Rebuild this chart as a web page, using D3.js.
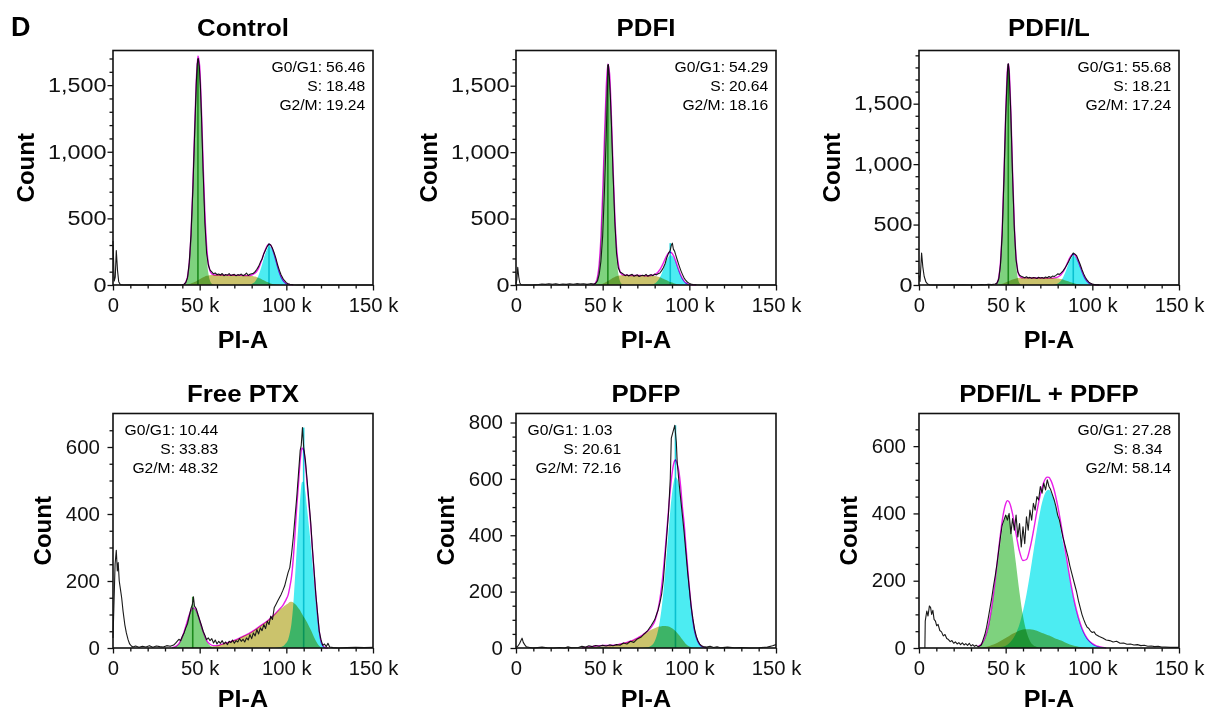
<!DOCTYPE html>
<html>
<head>
<meta charset="utf-8">
<script src="https://cdn.jsdelivr.net/npm/d3@7"></script>
<style>
body { margin: 0; background: #fff; }
svg { display: block; font-family: "Liberation Sans", Arial, Helvetica, sans-serif; }
.mult { mix-blend-mode: multiply; }
</style>
</head>
<body>
<svg id="fig" width="1207" height="712"></svg>
<script>
// ---- tick labels ----
const xTicks = [0, 50, 100, 150];
const yTicksTop = [0, 500, 1000, 1500];
const yTicksLow = [0, 200, 400, 600];
const yTicksPdfp = [0, 200, 400, 600, 800];
const statLabels = ["G0/G1:", "S:", "G2/M:"];

// ---- Control ----
const controlStats = ["56.46", "18.48", "19.24"];
const controlHist = [[0,330],[0.7,30],[1.3,60],[1.9,258],[2.6,110],[3.3,25],[4.2,3],[6,0],[10,1],[15,0],[20,1],[25,0],[30,1],[35,2],[38,1],[40,3],[41,6],[42,20],[43,55],[44,170],[45,380],[46,700],[47,1100],[48,1500],[48.6,1660],[49.2,1700],[49.8,1640],[50.4,1500],[51,1290],[52,850],[53,470],[54,240],[55,150],[56,112],[57,98],[58,84],[59,90],[60,78],[61,82],[62,75],[63,86],[64,70],[65,79],[66,74],[67,85],[68,71],[69,77],[70,80],[71,69],[72,78],[73,74],[74,82],[75,70],[76,76],[77,90],[78,72],[79,80],[80,85],[81,88],[82,100],[83,118],[84,140],[85,170],[86,195],[87,235],[88,262],[89,290],[90,309],[91,300],[92,275],[93,240],[94,200],[95,150],[96,110],[97,75],[98,50],[99,32],[100,18],[101,10],[102,6],[104,2],[106,0],[110,1],[120,0],[130,0],[140,0],[150,0]];
const controlK  = [40,41,42,43,44,45,46,47,48,49,50,51,52,53,54,55,56,57,58,59,60,62,64,66,68,70,72,74,76,78,80,81,82,83,84,85,86,87,88,89,90,91,92,93,94,95,96,97,98,99,100,102,104];
const controlG1 = [1,5,19,60,162,366,695,1110,1491,1684,1599,1276,856,483,229,91,31,9,2,0,0, 0,0,0,0,0,0,0,0,0,0, 0,0,0,0,0,0,0,0,0,0,0,0,0,0,0,0,0,0,0,0, 0,0];
const controlS  = [0,0,2,4,7,11,16,22,29,36,44,51,58,64,69,72,74,75,75,75,75, 75,74,74,73,73,72,72,71,70,68, 66,63,59,54,48,42,35,28,22,17,12,8,5,3,1,0,0,0,0,0, 0,0];
const controlG2 = [0,0,0,0,0,0,0,0,0,0,0,0,0,0,0,0,0,0,0,0,0, 0,0,0,0,0,0,0,0,0,7, 15,27,46,73,110,153,199,241,273,289,285,262,225,181,135,94,61,37,21,11, 3,0];

// ---- PDFI ----
const pdfiStats = ["54.29", "20.64", "18.16"];
const pdfiHist = [[0,10],[0.5,40],[1,134],[1.6,60],[2.2,15],[3,2],[5,0],[10,1],[13,4],[15,8],[17,5],[19,9],[21,6],[23,10],[25,4],[27,8],[29,5],[31,9],[33,6],[35,10],[37,7],[39,9],[41,5],[43,10],[45,8],[46,14],[47,30],[48,80],[49,180],[50,370],[51,700],[52,1100],[52.7,1450],[53.3,1660],[53.9,1560],[54.5,1400],[55,1230],[56,840],[57,480],[58,240],[59,130],[60,98],[61,90],[62,82],[63,70],[64,78],[65,68],[66,75],[67,80],[68,66],[69,72],[70,77],[71,64],[72,70],[73,74],[74,69],[75,80],[76,66],[77,74],[78,78],[79,70],[80,82],[81,76],[82,84],[83,90],[84,108],[85,130],[86,160],[87,205],[88,240],[89,262],[89.6,300],[90.2,315],[90.8,270],[91.5,255],[92,232],[93,190],[94,150],[95,112],[96,80],[97,52],[98,34],[99,20],[100,12],[101,7],[102,4],[104,2],[108,0],[115,0],[150,0]];
const pdfiK  = [44,45,46,47,48,49,50,51,52,53,54,55,56,57,58,59,60,61,62,63,64,66,68,70,72,74,76,78,79,80,81,82,83,84,85,86,87,88,89,90,91,92,93,94,95,96,97,98,99,100,101,102,104];
const pdfiG1 = [1,5,18,58,157,354,674,1077,1446,1634,1551,1238,830,469,221,89,30,8,2,0,0, 0,0,0,0,0,0,0, 0,0,0,0,0,0,0,0,0,0,0,0,0,0,0,0,0,0,0,0,0,0,0,0, 0];
const pdfiS  = [0,0,0,1,3,6,10,15,22,30,38,46,54,61,66,70,72,73,73,73,73, 72,72,71,71,70,70,69, 68,67,65,62,58,53,47,41,35,29,23,18,13,9,6,4,2,1,0,0,0,0,0,0, 0];
const pdfiG2 = [0,0,0,0,0,0,0,0,0,0,0,0,0,0,0,0,0,0,0,0,0, 0,0,0,0,0,0,3, 6,11,21,36,57,85,119,154,187,212,224,221,204,175,140,105,73,47,29,16,9,4,2,0, 0];

// ---- PDFI/L ----
const pdfilStats = ["55.68", "18.21", "17.24"];
const pdfilHist = [[0,80],[0.6,30],[1.5,265],[2.2,150],[3,70],[4,25],[5,8],[6,2],[8,0],[15,0],[25,1],[33,0],[36,4],[38,2],[40,6],[42,3],[44,8],[45,16],[46,50],[47,170],[48,430],[49,880],[50,1400],[51,1760],[51.5,1830],[52,1770],[53,1410],[54,900],[55,470],[56,210],[57,110],[58,80],[59,72],[60,66],[61,60],[62,68],[63,58],[64,63],[65,55],[66,62],[67,60],[68,54],[69,64],[70,58],[71,62],[72,56],[73,66],[74,60],[75,70],[76,62],[77,74],[78,70],[79,80],[80,92],[81,88],[82,100],[83,115],[84,135],[85,160],[86,185],[87,215],[88,240],[89,265],[90,255],[91,240],[92,205],[93,170],[94,128],[95,92],[96,62],[97,40],[98,24],[99,14],[100,8],[101,5],[102,3],[104,1],[108,0],[120,0],[150,0]];
const pdfilK  = [44,45,46,47,48,49,50,51,51.5,52,53,54,55,56,57,58,59,60,62,64,66,68,70,72,74,76,78,79,80,81,82,83,84,85,86,87,88,89,90,91,92,93,94,95,96,97,98,99,100,101,102,104];
const pdfilG1 = [3,15,58,181,449,886,1395,1750,1800,1750,1395,886,449,181,58,15,3,0, 0,0,0,0,0,0,0,0,0, 0,0,0,0,0,0,0,0,0,0,0,0,0,0,0,0,0,0,0,0,0,0,0,0, 0];
const pdfilS  = [0,1,3,6,10,15,21,27,30,33,39,45,50,54,57,58,59,59, 59,59,58,58,58,57,57,57,56, 55,54,52,49,45,40,35,30,25,20,16,12,9,6,4,2,1,0,0,0,0,0,0,0, 0];
const pdfilG2 = [0,0,0,0,0,0,0,0,0,0,0,0,0,0,0,0,0,0, 0,0,0,0,0,0,0,0,3, 6,12,22,38,61,91,126,165,200,226,239,236,217,186,149,112,78,51,31,18,9,4,2,0, 0];

// ---- Free PTX ----
const freeStats = ["10.44", "33.83", "48.32"];
const freeHist = [[0,30],[0.5,120],[1.2,250],[1.9,292],[2.5,230],[3,255],[3.6,200],[4.3,175],[5,150],[5.8,110],[6.8,70],[7.7,45],[8.7,25],[9.6,12],[10.6,6],[11.5,3],[13,6],[15,2],[17,5],[19,3],[21,7],[23,2],[25,6],[27,4],[29,3],[31,7],[33,5],[35,9],[36,14],[37,20],[38,26],[39,22],[40,35],[41,45],[42,60],[43,72],[44,95],[45,118],[45.8,130],[46.4,153],[47,125],[48,118],[49,100],[50,84],[51,68],[52,50],[53,38],[54,25],[55,30],[56,22],[57,28],[58,15],[59,24],[60,12],[61,20],[62,14],[63,22],[64,12],[65,18],[66,10],[67,20],[68,16],[69,24],[70,14],[71,22],[72,18],[73,28],[74,20],[75,26],[76,18],[77,30],[78,24],[79,40],[80,28],[81,45],[82,36],[83,55],[84,42],[85,60],[86,52],[87,70],[88,58],[89,80],[90,70],[91,95],[92,85],[93,120],[94,130],[95,140],[96,150],[97,160],[98,172],[99,185],[100,205],[101,225],[102,240],[103,280],[104,330],[105,390],[106,450],[107,520],[108,590],[108.6,605],[109.3,658],[110,600],[111,560],[112,500],[113,440],[114,380],[115,300],[116,230],[117,160],[118,105],[119,50],[120,25],[121,8],[122,12],[123,4],[124,14],[125,3],[127,1],[130,0],[135,1],[140,2],[145,1],[150,2]];
const freeK  = [34,36,38,40,42,44,45,46,47,48,49,50,52,54,56,58,60,62,64,66,68,70,72,75,78,80,82,85,88,90,93,96,98,99,100,101,102,103,104,105,106,107,108,109,110,111,112,113,114,115,116,117,118,119,120,121,122,123,124];
const freeG1 = [1,4,12,32,63,97,110,117,117,110,97,80, 46,20,7,2,0,0,0,0,0,0,0, 0,0,0,0,0,0,0,0,0,0, 0,0,0,0,0,0,0,0,0,0,0,0,0,0,0,0,0,0,0,0,0,0,0,0,0,0];
const freeS  = [0,0,1,1,2,2,2,2,2,2,2,2, 3,3,4,5,7,10,13,16,19,23,27, 35,42,48,55,66,77,85,99,114,122, 126,130,133,137,138,136,131,126,119,112,102,93,85,76,66,55,44,32,22,13,6,2,0,0,0,0];
const freeG2 = [0,0,0,0,0,0,0,0,0,0,0,0, 0,0,0,0,0,0,0,0,0,0,0, 0,0,0,0,0,0,0,0,2,5, 10,16,25,45,75,130,210,295,370,448,495,497,465,414,365,315,255,198,138,87,44,18,8,2,0,0];

// ---- PDFP ----
const pdfpStats = ["1.03", "20.61", "72.16"];
const pdfpHist = [[0,3],[1,6],[2,15],[3,28],[3.5,35],[4.2,20],[5,12],[6,4],[8,2],[10,0],[15,3],[18,1],[22,0],[25,2],[28,0],[30,4],[32,1],[36,2],[38,6],[40,3],[42,8],[44,5],[46,9],[48,6],[50,10],[52,7],[54,11],[56,8],[58,12],[60,10],[62,18],[64,14],[66,24],[68,20],[70,32],[72,38],[74,50],[76,62],[78,80],[80,100],[81,118],[82,135],[83,160],[84,190],[85,240],[86,320],[87,400],[88,480],[89,600],[89.6,745],[90.6,768],[91.6,790],[92.5,730],[93,660],[94,590],[95,530],[96,470],[97,410],[98,340],[99,270],[100,210],[101,150],[102,105],[103,68],[104,42],[105,25],[106,14],[107,8],[108,5],[110,3],[112,6],[114,2],[116,4],[118,1],[122,3],[126,1],[130,2],[135,0],[140,1],[145,3],[148,8],[150,12]];
const pdfpK  = [38,40,42,44,46,48,50,52,54,56,58,60,62,64,66,68,70,72,74,76,78,80,82,83,84,85,86,87,88,89,90,91,92,93,94,95,96,97,98,99,100,101,102,103,104,105,106,108,110];
const pdfpG1 = [0,0,1,2,3,4,4,3,2,1,0,0,0,0,0,0,0,0,0,0,0,0,0, 0,0,0,0,0,0,0,0,0,0,0,0,0,0,0,0,0,0,0,0,0,0,0,0, 0,0];
const pdfpS  = [1,2,3,3,4,4,5,6,7,9,11,14,17,20,24,29,35,42,50,57,65,70,75, 76,77,78,78,77,76,74,70,66,60,53,46,38,30,22,14,9,5,3,1,0,0,0,0, 0,0];
const pdfpG2 = [0,0,0,0,0,0,0,0,0,0,0,0,0,0,0,0,0,0,1,3,8,24,64, 97,141,197,264,338,415,487,547,589,607,600,580,535,470,420,350,280,210,150,100,62,38,22,12, 3,0];

// ---- PDFI/L + PDFP ----
const comboStats = ["27.28", "8.34", "58.14"];
const comboHist = [[3.4,0],[3.6,80],[4.5,110],[5.2,95],[6,125],[6.7,120],[7.3,100],[8,112],[8.7,85],[9.5,80],[10.2,66],[11,70],[12,52],[13,48],[14,36],[15,40],[16,28],[17,25],[18,19],[19,22],[20,14],[21,18],[22,12],[23,16],[24,10],[25,15],[26,9],[27,13],[28,8],[29,14],[30,6],[31,10],[32,5],[33,8],[34,4],[35,6],[36,9],[37,25],[38,40],[39,62],[40,90],[41,120],[42,150],[43,185],[44,215],[45,250],[46,290],[47,330],[48,365],[49,380],[50,395],[51,380],[52,400],[53,340],[54,385],[55,350],[56,395],[57,330],[58,370],[59,300],[60,360],[61,310],[62,390],[63,350],[64,410],[65,380],[66,430],[67,410],[68,450],[69,440],[70,480],[71,460],[72,490],[73,470],[74,500],[75,480],[76,470],[77,455],[78,440],[79,420],[80,395],[81,380],[82,355],[83,330],[84,310],[85,290],[86,270],[87,245],[88,225],[89,205],[90,185],[91,165],[92,140],[93,120],[94,100],[95,85],[96,72],[97,62],[98,58],[99,50],[100,46],[101,48],[102,40],[104,34],[106,30],[108,24],[110,22],[112,18],[114,20],[116,14],[118,15],[120,11],[122,12],[124,9],[126,10],[128,7],[130,8],[132,5],[134,6],[136,4],[138,5],[140,3],[142,3],[145,2],[150,2]];
const comboK  = [34,36,38,40,42,44,46,48,50,51,52,54,56,58,60,62,64,66,68,70,72,74,75,76,78,80,82,84,86,88,90,92,94,96,98,100,102,104,106,108];
const comboG1 = [4,11,27,60,113,188,274,350,392, 395, 384,330,248,164,95,48,21,8,3,0,0,0, 0, 0,0,0,0,0,0,0,0,0,0,0,0,0,0,0,0,0];
const comboS  = [0,1,3,5,9,13,18,24,30, 33, 36,42,47,52,55,56,56,54,51,47,43,39, 37, 35,30,26,22,17,13,9,6,4,2,1,0,0,0,0,0,0];
const comboG2 = [0,0,0,0,1,2,3,4,7, 10, 14,26,44,71,110,159,219,285,351,409,450,469, 470, 464,439,397,344,285,226,171,124,86,57,36,22,13,7,4,2,0];

// ---- layout ----
const width = 1207, height = 712;
const colLeft = [113, 516, 919];
const rowTop = [50.5, 413.5];
const titleGap = [14.5, 12];
const xLabelGap = [63, 59.5];
const yLabelPad = [1, 7.5];
const boxW = 260, boxH = 234.5;

const panels = [
	{ title: "Control", hist: controlHist, k: controlK, g1: controlG1, s: controlS, g2: controlG2, stats: controlStats, yMax: 1760, yTicks: yTicksTop, minorStep: 100, statsLeft: false, markers: true, col: 0, row: 0 },
	{ title: "PDFI", hist: pdfiHist, k: pdfiK, g1: pdfiG1, s: pdfiS, g2: pdfiG2, stats: pdfiStats, yMax: 1765, yTicks: yTicksTop, minorStep: 100, statsLeft: false, markers: true, col: 1, row: 0 },
	{ title: "PDFI/L", hist: pdfilHist, k: pdfilK, g1: pdfilG1, s: pdfilS, g2: pdfilG2, stats: pdfilStats, yMax: 1940, yTicks: yTicksTop, minorStep: 100, statsLeft: false, markers: true, col: 2, row: 0 },
	{ title: "Free PTX", hist: freeHist, k: freeK, g1: freeG1, s: freeS, g2: freeG2, stats: freeStats, yMax: 700, yTicks: yTicksLow, minorStep: 50, statsLeft: true, markers: true, col: 0, row: 1 },
	{ title: "PDFP", hist: pdfpHist, k: pdfpK, g1: pdfpG1, s: pdfpS, g2: pdfpG2, stats: pdfpStats, yMax: 832, yTicks: yTicksPdfp, minorStep: 50, statsLeft: true, markers: true, col: 1, row: 1 },
	{ title: "PDFI/L + PDFP", hist: comboHist, k: comboK, g1: comboG1, s: comboS, g2: comboG2, stats: comboStats, yMax: 697, yTicks: yTicksLow, minorStep: 50, statsLeft: false, markers: false, col: 2, row: 1 }
];

const colors = { g1: "#7ed27e", s: "#cbc36c", g2: "#4cecf2", g1Mark: "#3aa83a", g2Mark: "#20d0dc", fit: "#e81ee8", hist: "#1a1a1a" };

const svg = d3.select("#fig");
svg.append("rect").attr("width", width).attr("height", height).attr("fill", "#fff");

// widen a text horizontally around its anchor point
function stretch(sel, sx) {
	sel.each(function() {
		const t = d3.select(this);
		const x0 = +t.attr("x") || 0;
		const y0 = +t.attr("y") || 0;
		t.attr("transform", "translate(" + x0 + "," + y0 + ") scale(" + sx + ",1) translate(" + (-x0) + "," + (-y0) + ")");
	});
}

svg.append("text")
	.attr("x", 11).attr("y", 36)
	.attr("font-size", 27).attr("font-weight", "bold")
	.text("D");

panels.forEach(function(p) {
	const g = svg.append("g")
		.attr("transform", "translate(" + colLeft[p.col] + "," + rowTop[p.row] + ")");

	const x = d3.scaleLinear().domain([0, 150]).range([0, boxW]);
	const y = d3.scaleLinear().domain([0, p.yMax]).range([boxH, 0]);

	const rows = p.k.map(function(k, i) {
		return { k: k, g1: p.g1[i], s: p.s[i], g2: p.g2[i], fit: p.g1[i] + p.s[i] + p.g2[i] };
	});

	const area = function(key) {
		return d3.area().x(d => x(d.k)).y0(boxH).y1(d => y(d[key])).curve(d3.curveMonotoneX);
	};

	// model components
	["s", "g1", "g2"].forEach(function(key) {
		g.append("path").datum(rows)
			.attr("class", "mult")
			.attr("fill", colors[key])
			.attr("d", area(key));
	});

	// peak markers
	if (p.markers) {
		[["g1", colors.g1Mark], ["g2", colors.g2Mark]].forEach(function(m) {
			const peak = d3.greatest(rows, d => d[m[0]]);
			if (!peak || peak[m[0]] < 20) return;
			const near = p.hist.filter(d => Math.abs(d[0] - peak.k) <= 1.5);
			const top = Math.max(peak[m[0]], d3.max(near, d => d[1]) || 0);
			g.append("line")
				.attr("class", "mult")
				.attr("x1", x(peak.k)).attr("x2", x(peak.k))
				.attr("y1", boxH).attr("y2", y(top))
				.attr("stroke", m[1]).attr("stroke-width", 1.6);
		});
	}

	// raw histogram
	g.append("path").datum(p.hist)
		.attr("fill", "none")
		.attr("stroke", colors.hist)
		.attr("stroke-width", 1.1)
		.attr("stroke-linejoin", "round")
		.attr("d", d3.line().x(d => x(d[0])).y(d => y(d[1])));

	// total fit
	g.append("path").datum(rows)
		.attr("class", "mult")
		.attr("fill", "none")
		.attr("stroke", colors.fit)
		.attr("stroke-width", 1.4)
		.attr("d", d3.line().x(d => x(d.k)).y(d => y(d.fit)).curve(d3.curveMonotoneX));

	// frame
	g.append("rect")
		.attr("width", boxW).attr("height", boxH)
		.attr("fill", "none").attr("stroke", "#111").attr("stroke-width", 1.6);

	// y axis
	const minorY = d3.range(0, p.yMax, p.minorStep).filter(v => p.yTicks.indexOf(v) < 0);
	const yMinor = g.append("g")
		.call(d3.axisLeft(y).tickValues(minorY).tickSize(3.5).tickFormat(""));
	yMinor.select(".domain").remove();
	yMinor.selectAll("line").attr("stroke", "#111").attr("stroke-width", 1.3);

	const yAxis = g.append("g")
		.call(d3.axisLeft(y).tickValues(p.yTicks).tickSize(5.5).tickPadding(yLabelPad[p.row]).tickFormat(d3.format(",")));
	yAxis.attr("font-family", null).attr("font-size", 19.5);
	yAxis.select(".domain").remove();
	yAxis.selectAll("line").attr("stroke", "#111").attr("stroke-width", 1.3);
	yAxis.selectAll("text").attr("fill", "#111");
	stretch(yAxis.selectAll("text"), p.row === 0 ? 1.2 : 1.05);

	// x axis
	const xMinor = g.append("g")
		.attr("transform", "translate(0," + boxH + ")")
		.call(d3.axisBottom(x).tickValues(d3.range(10, 150, 10).filter(v => v % 50)).tickSize(3.5).tickFormat(""));
	xMinor.select(".domain").remove();
	xMinor.selectAll("line").attr("stroke", "#111").attr("stroke-width", 1.3);

	const xAxis = g.append("g")
		.attr("transform", "translate(0," + boxH + ")")
		.call(d3.axisBottom(x).tickValues(xTicks).tickSize(5.5).tickPadding(8)
			.tickFormat(d => d === 0 ? "0" : d + " k"));
	xAxis.attr("font-family", null).attr("font-size", 19.5);
	xAxis.select(".domain").remove();
	xAxis.selectAll("line").attr("stroke", "#111").attr("stroke-width", 1.3);
	xAxis.selectAll("text").attr("fill", "#111");
	stretch(xAxis.selectAll("text"), 1.04);

	// titles
	const title = g.append("text")
		.attr("x", boxW / 2).attr("y", -titleGap[p.row])
		.attr("text-anchor", "middle")
		.attr("font-size", 23.5).attr("font-weight", "bold")
		.text(p.title);
	stretch(title, 1.1);

	const xLabel = g.append("text")
		.attr("x", boxW / 2).attr("y", boxH + xLabelGap[p.row])
		.attr("text-anchor", "middle")
		.attr("font-size", 24).attr("font-weight", "bold")
		.text("PI-A");
	stretch(xLabel, 1.05);

	const labelLeft = yAxis.node().getBBox().x;
	g.append("text")
		.attr("transform", "translate(" + (labelLeft - 14.5) + "," + (boxH / 2) + ") rotate(-90)")
		.attr("text-anchor", "middle")
		.attr("font-size", 24).attr("font-weight", "bold")
		.text("Count");

	// stats block
	const cx = p.statsLeft ? 62 : boxW - 51;
	statLabels.forEach(function(lab, i) {
		const yy = 21.5 + 19.2 * i;
		const a = g.append("text").attr("x", cx).attr("y", yy)
			.attr("text-anchor", "end").attr("font-size", 14.5).text(lab);
		const b = g.append("text").attr("x", cx + 4).attr("y", yy)
			.attr("text-anchor", "start").attr("font-size", 14.5).text(p.stats[i]);
		stretch(a, 1.08);
		stretch(b, 1.08);
	});
});
</script>
</body>
</html>
